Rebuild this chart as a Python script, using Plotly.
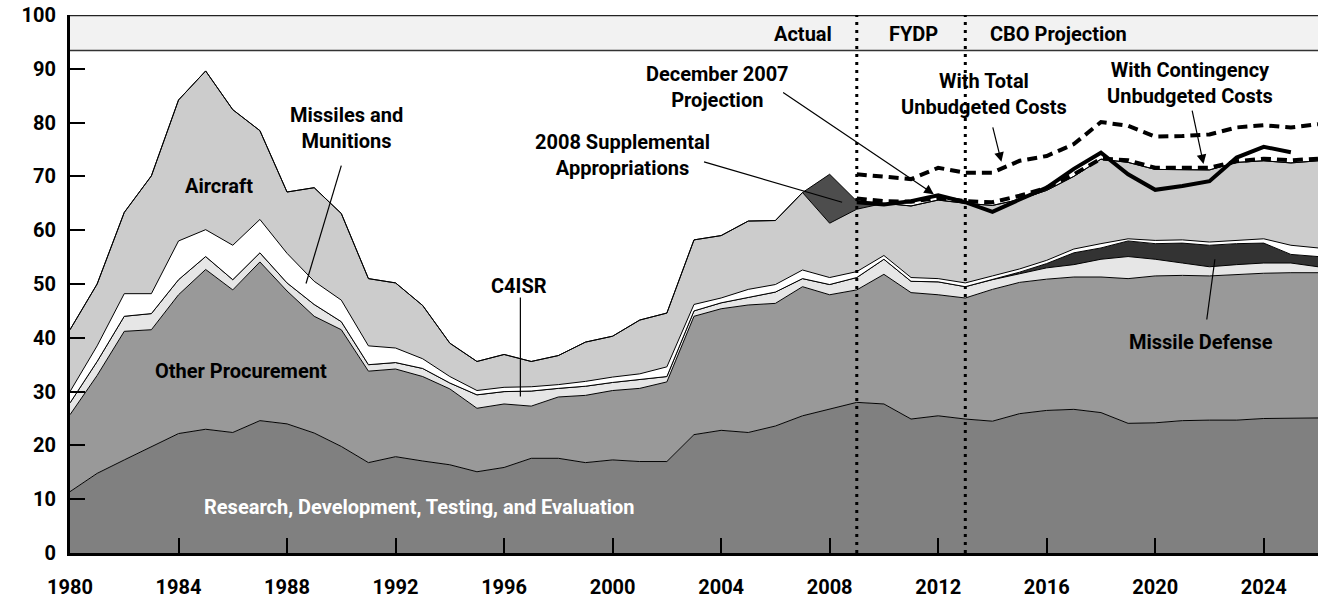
import plotly.graph_objects as go

# ---------------- data ----------------
years = list(range(1980, 2027))

rdte = [11.4, 14.8, 17.3, 19.8, 22.2, 23.0, 22.4, 24.6, 24.0, 22.3,
        19.8, 16.8, 17.9, 17.1, 16.4, 15.1, 15.9, 17.6, 17.6, 16.8,
        17.3, 17.0, 17.0, 22.0, 22.8, 22.4, 23.6, 25.5, 26.8, 28.0,
        27.7, 24.9, 25.5, 24.9, 24.5, 25.9, 26.5, 26.7, 26.1, 24.1,
        24.2, 24.6, 24.7, 24.7, 25.0, 25.1, 25.1]
other_procurement = [14.3, 18.2, 23.9, 21.7, 25.8, 29.7, 26.5, 29.5, 24.7, 21.7,
                     21.7, 17.0, 16.3, 15.7, 14.1, 11.8, 11.8, 9.7, 11.4, 12.5,
                     12.9, 13.6, 14.8, 22.0, 22.6, 23.7, 22.8, 24.0, 21.2, 20.9,
                     24.1, 23.5, 22.5, 22.5, 24.5, 24.4, 24.4, 24.6, 25.2, 26.9,
                     27.3, 27.0, 26.8, 27.1, 27.0, 27.0, 27.0]
c4isr = [2.2, 2.6, 2.8, 3.0, 2.8, 2.4, 1.9, 1.7, 1.5, 2.2,
         1.5, 1.2, 1.2, 1.5, 1.1, 2.5, 2.3, 2.8, 1.6, 1.7,
         1.5, 1.6, 1.0, 1.0, 1.1, 1.4, 2.1, 1.5, 1.9, 2.3,
         2.8, 2.1, 2.4, 2.1, 1.8, 1.6, 2.1, 2.3, 3.3, 4.1,
         3.1, 2.3, 1.7, 1.8, 1.9, 1.8, 1.1]
missile_defense = [0, 0, 0, 0, 0, 0, 0, 0, 0, 0,
                   0, 0, 0, 0, 0, 0, 0, 0, 0, 0,
                   0, 0, 0, 0, 0, 0, 0, 0, 0, 0,
                   0, 0, 0, 0, 0, 0.3, 0.8, 2.2, 2.1, 2.9,
                   2.9, 3.7, 4.0, 3.9, 3.7, 1.6, 1.9]
missiles_munitions = [2.1, 2.9, 4.2, 3.7, 7.2, 5.0, 6.4, 6.2, 5.5, 4.3,
                      4.0, 3.5, 2.7, 1.8, 1.2, 0.8, 0.8, 0.8, 0.7, 0.9,
                      1.0, 1.1, 1.8, 1.2, 0.9, 1.5, 1.4, 1.6, 1.3, 1.1,
                      0.7, 0.7, 0.6, 0.7, 0.7, 0.6, 0.6, 0.7, 0.8, 0.4,
                      0.6, 0.6, 0.6, 0.6, 0.8, 1.7, 1.6]
aircraft = [11.5, 11.5, 15.1, 21.9, 26.2, 29.5, 25.2, 16.5, 11.4, 17.4,
            16.1, 12.5, 12.1, 9.9, 6.2, 5.4, 6.1, 4.7, 5.4, 7.3,
            7.6, 10.0, 10.0, 12.0, 11.6, 12.7, 11.9, 14.4, 10.1, 11.6,
            9.7, 13.3, 14.6, 14.8, 13.1, 12.9, 13.0, 13.5, 15.7, 14.2,
            13.2, 13.1, 13.4, 14.5, 14.5, 15.3, 16.2]
supplemental_2008 = [0, 0, 0, 0, 0, 0, 0, 0, 0, 0,
                     0, 0, 0, 0, 0, 0, 0, 0, 0, 0,
                     0, 0, 0, 0, 0, 0, 0, 0, 9.1, 1.5,
                     0, 0, 0, 0, 0, 0, 0, 0, 0, 0,
                     0, 0, 0, 0, 0, 0, 0]

dec2007_years = list(range(2009, 2026))
dec2007_projection = [65.2, 64.8, 65.4, 66.5, 65.2, 63.4, 65.7, 67.9, 71.4,
                      74.4, 70.4, 67.5, 68.2, 69.1, 73.5, 75.5, 74.5]
unbudgeted_years = list(range(2009, 2027))
total_unbudgeted = [70.4, 70.0, 69.5, 71.6, 70.7, 70.7, 72.9, 73.8, 76.0,
                    80.1, 79.4, 77.4, 77.5, 77.8, 79.1, 79.5, 79.1, 79.7]
contingency_unbudgeted = [65.9, 65.4, 65.3, 66.0, 65.4, 65.2, 66.4, 67.9, 70.4,
                          73.3, 73.0, 71.6, 71.6, 71.6, 72.8, 73.3, 73.0, 73.3]

x_ticks = list(range(1980, 2027, 4))
y_ticks = list(range(0, 101, 10))

# ---------------- figure ----------------
FONT = "Roboto"
fig = go.Figure()

layers = [
    ("RDT&E", rdte, "#808080"),
    ("Other Procurement", other_procurement, "#999999"),
    ("C4ISR", c4isr, "#e6e6e6"),
    ("Missile Defense", missile_defense, "#333333"),
    ("Missiles and Munitions", missiles_munitions, "#ffffff"),
    ("Aircraft", aircraft, "#cccccc"),
    ("2008 Supplemental", supplemental_2008, "#4d4d4d"),
]
for name, vals, col in layers:
    fig.add_trace(go.Scatter(x=years, y=vals, name=name, mode="lines",
                             stackgroup="one", fillcolor=col,
                             line=dict(color="black", width=1)))

fig.add_trace(go.Scatter(x=dec2007_years, y=dec2007_projection, mode="lines",
                         line=dict(color="black", width=4)))
fig.add_trace(go.Scatter(x=unbudgeted_years, y=total_unbudgeted, mode="lines",
                         line=dict(color="black", width=4, dash="10px,6px")))
fig.add_trace(go.Scatter(x=unbudgeted_years, y=contingency_unbudgeted, mode="lines",
                         line=dict(color="black", width=4, dash="10px,6px")))

shapes = [
    dict(type="rect", xref="x", yref="y", x0=1980, x1=2026, y0=93.4, y1=100,
         fillcolor="#f2f2f2", line=dict(width=0), layer="below"),
    dict(type="line", xref="x", yref="y", x0=1980, x1=2026, y0=93.4, y1=93.4,
         line=dict(color="#333333", width=1.5), layer="above"),
    dict(type="line", xref="x", yref="y", x0=1980, x1=2026, y0=100, y1=100,
         line=dict(color="#222222", width=2.5), layer="above"),
    dict(type="line", xref="x", yref="y", x0=2009, x1=2009, y0=0, y1=100,
         line=dict(color="black", width=3, dash="3px,5px"), layer="above"),
    dict(type="line", xref="x", yref="y", x0=2013, x1=2013, y0=0, y1=100,
         line=dict(color="black", width=3, dash="3px,5px"), layer="above"),
    # pointer lines
    dict(type="line", xref="x", yref="y", x0=1990.0, y0=72.0, x1=1988.7, y1=50.1,
         line=dict(color="black", width=1.2), layer="above"),
    dict(type="line", xref="x", yref="y", x0=1996.6, y0=47.5, x1=1996.6, y1=29.1,
         line=dict(color="black", width=1.2), layer="above"),
    dict(type="line", xref="x", yref="y", x0=2003.37, y0=72.7, x1=2008.46, y1=65.2,
         line=dict(color="black", width=1.2), layer="above"),
    dict(type="line", xref="x", yref="y", x0=2021.9, y0=43.4, x1=2022.2, y1=54.6,
         line=dict(color="black", width=1.2), layer="above"),
]

bold = dict(family=FONT, size=20, color="black", weight="bold")
white_bold = dict(family=FONT, size=20, color="white", weight="bold")

annotations = [
    dict(x=1985.5, y=68.3, text="Aircraft"),
    dict(x=1990.18, y=79.0, text="Missiles and<br>Munitions"),
    dict(x=1986.3, y=33.9, text="Other Procurement"),
    dict(x=1996.56, y=49.7, text="C4ISR"),
    dict(x=2000.38, y=73.9, text="2008 Supplemental<br>Appropriations"),
    dict(x=2003.86, y=86.7, text="December 2007<br>Projection"),
    dict(x=2013.68, y=85.3, text="With Total<br>Unbudgeted Costs"),
    dict(x=2021.29, y=87.4, text="With Contingency<br>Unbudgeted Costs"),
    dict(x=2021.69, y=39.3, text="Missile Defense"),
    dict(x=2008.16, y=96.5, text="Actual", xanchor="right"),
    dict(x=2011.1, y=96.5, text="FYDP"),
    dict(x=2013.84, y=96.5, text="CBO Projection", xanchor="left"),
]
ann_list = []
for a in annotations:
    d = dict(xref="x", yref="y", showarrow=False, font=bold,
             xanchor="center", yanchor="middle")
    d.update(a)
    ann_list.append(d)
ann_list.append(dict(xref="x", yref="y", x=1992.87, y=8.6, showarrow=False,
                     text="Research, Development, Testing, and Evaluation",
                     font=white_bold, xanchor="center", yanchor="middle"))
# arrows
for (tx, ty, hx, hy) in [(2006.23, 85.8, 2011.84, 66.7),
                         (2014.0, 79.4, 2014.33, 72.7),
                         (2021.35, 82.5, 2021.78, 72.3)]:
    ann_list.append(dict(xref="x", yref="y", axref="x", ayref="y",
                         x=hx, y=hy, ax=tx, ay=ty, text="", showarrow=True,
                         arrowhead=2, arrowsize=1.6, arrowwidth=1.2,
                         arrowcolor="black"))

fig.update_layout(
    width=1318, height=598,
    margin=dict(l=70, r=0, t=15, b=45, autoexpand=False),
    paper_bgcolor="white", plot_bgcolor="white",
    showlegend=False,
    shapes=shapes, annotations=ann_list,
    xaxis=dict(range=[1980, 2026], tickmode="array", tickvals=x_ticks,
               ticktext=[str(v) for v in x_ticks],
               ticks="inside", ticklen=15, tickwidth=1.5, tickcolor="black",
               showline=True, linecolor="black", linewidth=3,
               showgrid=False, zeroline=False, tickfont=bold,
               ticklabelstandoff=14, automargin=False),
    yaxis=dict(range=[0, 100], tickmode="array", tickvals=y_ticks,
               ticks="inside", ticklen=15, tickwidth=1.5, tickcolor="black",
               showline=True, linecolor="black", linewidth=3,
               showgrid=False, zeroline=False, tickfont=bold,
               ticklabelstandoff=7, automargin=False),
)

fig.write_html("out.html",
               config={"displayModeBar": False},
               post_script="document.body.style.margin='0';"
                           "document.body.style.overflow='hidden';")
